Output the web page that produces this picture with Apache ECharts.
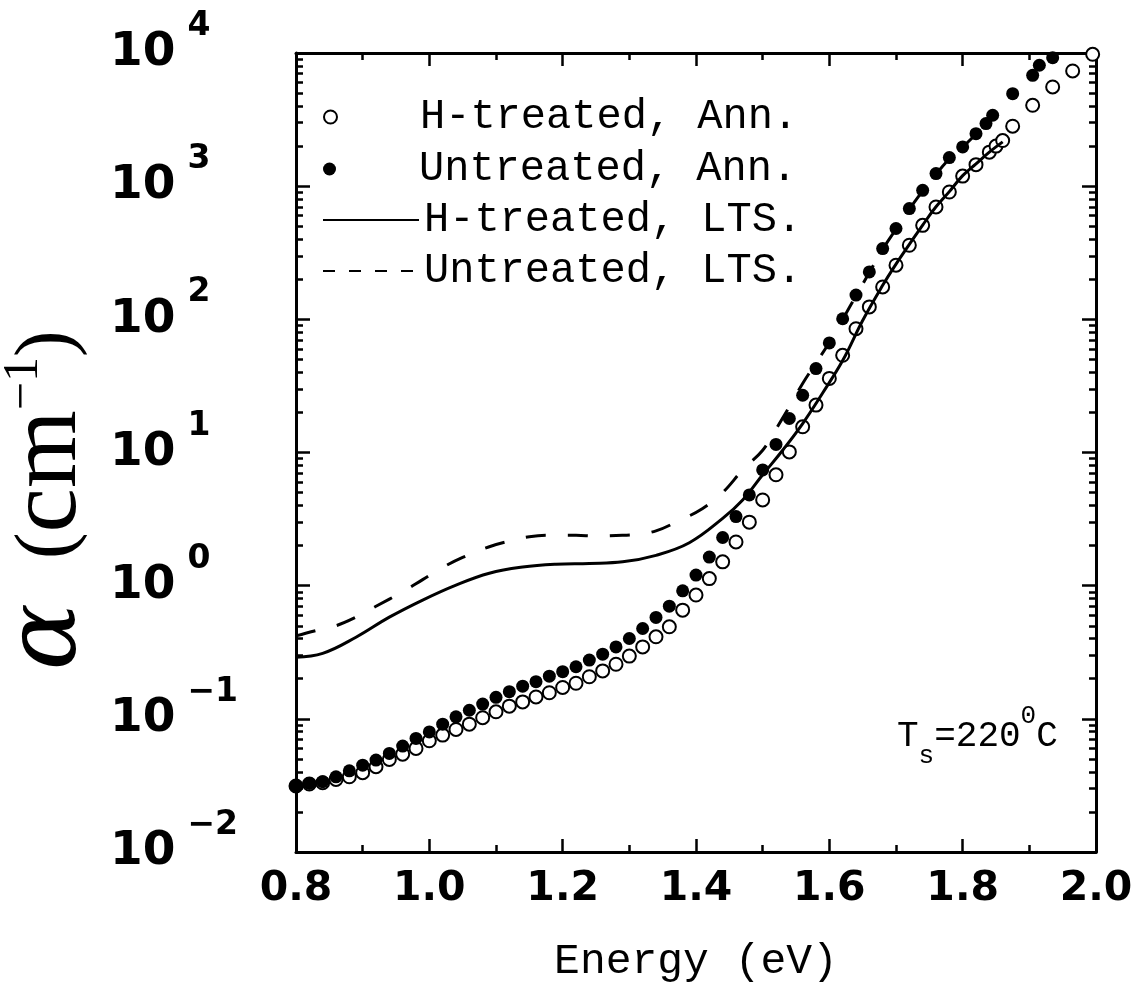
<!DOCTYPE html>
<html>
<head>
<meta charset="utf-8">
<script src="https://cdn.jsdelivr.net/npm/echarts@6/dist/echarts.min.js"></script>
<style>
  html, body { margin: 0; padding: 0; background: #fff; }
  #chart { width: 1141px; height: 1006px; }
</style>
</head>
<body>
<div id="chart"></div>
<script>
// Photon energies (eV) and absorption coefficients (cm^-1)

// H-treated sample, annealed state (open circles)
const hAnnEnergy = [
  0.80, 0.82, 0.84, 0.86, 0.88, 0.90, 0.92, 0.94, 0.96, 0.98,
  1.00, 1.02, 1.04, 1.06, 1.08, 1.10, 1.12, 1.14, 1.16, 1.18,
  1.20, 1.22, 1.24, 1.26, 1.28, 1.30, 1.32, 1.34, 1.36, 1.38,
  1.40, 1.42, 1.44, 1.46, 1.48, 1.50, 1.52, 1.54, 1.56, 1.58,
  1.60, 1.62, 1.64, 1.66, 1.68, 1.70, 1.72, 1.74, 1.76, 1.78,
  1.80, 1.82, 1.84, 1.85, 1.86, 1.875, 1.905, 1.935, 1.965, 1.995
];
const hAnnAlpha = [
  0.0313, 0.0324, 0.0331, 0.0351, 0.0367, 0.0394, 0.0437, 0.0496, 0.0543, 0.060,
  0.0684, 0.0755, 0.0832, 0.0912, 0.102, 0.113, 0.1245, 0.134, 0.146, 0.157,
  0.172, 0.185, 0.207, 0.229, 0.257, 0.296, 0.347, 0.413, 0.491, 0.655,
  0.85, 1.13, 1.51, 2.13, 3.0, 4.4, 6.8, 10.1, 15.6, 22.7,
  36, 53.7, 85, 124, 175, 255, 360, 508, 698, 904,
  1190, 1450, 1800, 2000, 2200, 2820, 4050, 5560, 7330, 9780
];

// Untreated sample, annealed state (filled circles)
const uAnnEnergy = [
  0.80, 0.82, 0.84, 0.86, 0.88, 0.90, 0.92, 0.94, 0.96, 0.98,
  1.00, 1.02, 1.04, 1.06, 1.08, 1.10, 1.12, 1.14, 1.16, 1.18,
  1.20, 1.22, 1.24, 1.26, 1.28, 1.30, 1.32, 1.34, 1.36, 1.38,
  1.40, 1.42, 1.44, 1.46, 1.48, 1.50, 1.52, 1.54, 1.56, 1.58,
  1.60, 1.62, 1.64, 1.66, 1.68, 1.70, 1.72, 1.74, 1.76, 1.78,
  1.80, 1.82, 1.835, 1.845, 1.875, 1.905, 1.915, 1.935
];
const uAnnAlpha = [
  0.0313, 0.0327, 0.0337, 0.0367, 0.0407, 0.0449, 0.049, 0.055, 0.0624, 0.0713,
  0.0798, 0.0912, 0.1035, 0.116, 0.129, 0.145, 0.160, 0.176, 0.190, 0.209,
  0.226, 0.246, 0.276, 0.306, 0.347, 0.401, 0.477, 0.577, 0.701, 0.914,
  1.2, 1.64, 2.3, 3.3, 4.8, 7.4, 11.5, 18, 26.9, 42.7,
  66.5, 101, 152, 227, 340, 481, 679, 931, 1244, 1640,
  1970, 2480, 2950, 3410, 4950, 6800, 8090, 9230
];

// H-treated sample, light-soaked state (solid curve)
const hLtsEnergy = [
  0.80, 0.84, 0.89, 0.94, 0.99, 1.04, 1.09, 1.14, 1.19, 1.24,
  1.29, 1.34, 1.39, 1.44, 1.47, 1.50, 1.53, 1.56, 1.59, 1.62,
  1.65, 1.68, 1.70, 1.72, 1.74, 1.76, 1.78, 1.80, 1.82, 1.84, 1.86
];
const hLtsAlpha = [
  0.29, 0.31, 0.41, 0.58, 0.78, 1.01, 1.24, 1.38, 1.45, 1.47,
  1.51, 1.69, 2.1, 3.2, 4.4, 6.8, 10.4, 16.5, 28, 49,
  98, 180, 260, 365, 510, 700, 910, 1200, 1470, 1800, 2150
];

// Untreated sample, light-soaked state (dashed curve)
const uLtsEnergy = [
  0.80, 0.83, 0.86, 0.89, 0.92, 0.96, 0.99, 1.02, 1.05, 1.09,
  1.12, 1.15, 1.18, 1.22, 1.25, 1.28, 1.31, 1.34, 1.37, 1.41,
  1.44, 1.47, 1.50, 1.52, 1.54, 1.56, 1.58, 1.60, 1.62, 1.64,
  1.66, 1.68, 1.70, 1.72, 1.74, 1.76, 1.78, 1.80, 1.82, 1.84, 1.85
];
const uLtsAlpha = [
  0.42, 0.46, 0.50, 0.58, 0.70, 0.90, 1.11, 1.37, 1.63, 1.96,
  2.16, 2.33, 2.39, 2.39, 2.36, 2.38, 2.42, 2.58, 3.0, 3.8,
  5.0, 7.4, 10.4, 15.0, 22, 33, 47, 67, 100, 150,
  225, 335, 475, 670, 920, 1230, 1600, 1960, 2450, 2950, 3400
];

// Axis ranges and tick positions
const energyRange = [0.8, 2.0];
const energyStep = 0.2;
const alphaRange = [0.01, 10000];
const alphaMinorTicks = [];
for (let d = -2; d < 4; d++) {
  for (let m = 2; m <= 9; m++) alphaMinorTicks.push(m * Math.pow(10, d));
}

const legendNames = ['H-treated, Ann.', 'Untreated, Ann.', 'H-treated, LTS.', 'Untreated, LTS.'];
const annotation = ['T', 's', '=220', '0', 'C'];

const pairs = (xs, ys) => xs.map((x, i) => [x, ys[i]]);

const INK = '#000';
const monoFont = 'Liberation Mono';
const labelFont = 'DejaVu Sans';

const axisLine = { show: true, onZero: false, lineStyle: { color: INK, width: 3 } };

function decadeLabel(v) {
  const e = Math.round(Math.log10(v));
  const s = e < 0 ? '\u2212' + (-e) : String(e);
  return '{b|10}{s|' + s + '}';
}

const decadeRich = {
  b: { fontFamily: labelFont, fontWeight: 'bold', fontSize: 47, lineHeight: 86, color: INK },
  s: { fontFamily: labelFont, fontWeight: 'bold', fontSize: 33, lineHeight: 33, verticalAlign: 'top', padding: [0, 0, 0, 12], color: INK }
};

function legendBlock(name, top, opts) {
  return Object.assign({
    data: [name],
    top: top,
    orient: 'vertical',
    selectedMode: false,
    itemGap: 0,
    padding: 0,
    textStyle: { fontFamily: monoFont, fontSize: 42, lineHeight: 42, color: INK }
  }, opts);
}

const chart = echarts.init(document.getElementById('chart'), null, { renderer: 'canvas' });

chart.setOption({
  animation: false,
  backgroundColor: '#fff',
  grid: { left: 296, right: 45, top: 53, bottom: 154, outerBoundsMode: 'none', containLabel: false },
  xAxis: [
    {
      type: 'value', position: 'bottom',
      min: energyRange[0], max: energyRange[1], interval: energyStep,
      axisLine: axisLine,
      axisTick: { inside: true, length: 13, lineStyle: { color: INK, width: 2.5 } },
      minorTick: { show: true, splitNumber: 2, length: 7, lineStyle: { color: INK, width: 2.5 } },
      splitLine: { show: false },
      axisLabel: {
        formatter: v => v.toFixed(1), margin: 17,
        fontFamily: labelFont, fontWeight: 'bold', fontSize: 41, color: INK
      },
      name: 'Energy (eV)', nameLocation: 'middle', nameGap: 88,
      nameTextStyle: { fontFamily: monoFont, fontSize: 43, color: INK }
    },
    {
      type: 'value', position: 'top',
      min: energyRange[0], max: energyRange[1], interval: energyStep,
      axisLine: axisLine,
      axisTick: { inside: true, length: 13, lineStyle: { color: INK, width: 2.5 } },
      minorTick: { show: true, splitNumber: 2, length: 7, lineStyle: { color: INK, width: 2.5 } },
      splitLine: { show: false },
      axisLabel: { show: false }
    }
  ],
  yAxis: [
    {
      type: 'log', logBase: 10, position: 'left',
      min: alphaRange[0], max: alphaRange[1],
      axisLine: axisLine,
      axisTick: { inside: true, length: 14, lineStyle: { color: INK, width: 2.5 } },
      splitLine: { show: false },
      axisLabel: { formatter: decadeLabel, align: 'left', margin: 186, rich: decadeRich },
      name: '{a|\u03b1}{g| }{p|(}{c|cm}{e|\u22121}{p|)}{z|}',
      nameLocation: 'middle', nameRotate: 90, nameGap: 168,
      nameTextStyle: {
        fontFamily: 'Liberation Serif', fontSize: 48, color: INK,
        rich: {
          a: { fontFamily: 'DejaVu Serif', fontStyle: 'italic', fontSize: 100, color: INK },
          g: { fontFamily: 'Liberation Serif', fontSize: 48, width: 44 },
          p: { fontFamily: 'Liberation Serif', fontSize: 80, color: INK },
          c: { fontFamily: 'Liberation Serif', fontSize: 100, color: INK },
          e: { fontFamily: 'Liberation Serif', fontSize: 50, lineHeight: 50, verticalAlign: 'top', color: INK },
          z: { width: 96 }
        }
      }
    },
    {
      type: 'log', logBase: 10, position: 'right',
      min: alphaRange[0], max: alphaRange[1],
      axisLine: axisLine,
      axisTick: { inside: true, length: 14, lineStyle: { color: INK, width: 2.5 } },
      splitLine: { show: false },
      axisLabel: { show: false }
    },
    {
      type: 'log', logBase: 10, position: 'left',
      min: alphaRange[0], max: alphaRange[1],
      axisLine: { show: false },
      axisTick: { inside: true, length: 7, customValues: alphaMinorTicks, lineStyle: { color: INK, width: 2.5 } },
      splitLine: { show: false },
      axisLabel: { show: false }
    },
    {
      type: 'log', logBase: 10, position: 'right',
      min: alphaRange[0], max: alphaRange[1],
      axisLine: { show: false },
      axisTick: { inside: true, length: 7, customValues: alphaMinorTicks, lineStyle: { color: INK, width: 2.5 } },
      splitLine: { show: false },
      axisLabel: { show: false }
    }
  ],
  legend: [
    legendBlock(legendNames[0], 96, {
      left: 323, itemWidth: 13, itemHeight: 13,
      formatter: n => '{g|}' + n,
      textStyle: { fontFamily: monoFont, fontSize: 42, lineHeight: 42, color: INK, rich: { g: { width: 78 } } }
    }),
    legendBlock(legendNames[1], 148, {
      left: 323, itemWidth: 13, itemHeight: 13,
      formatter: n => '{g|}' + n,
      textStyle: { fontFamily: monoFont, fontSize: 42, lineHeight: 42, color: INK, rich: { g: { width: 78 } } }
    }),
    legendBlock(legendNames[2], 199, {
      left: 322, itemWidth: 96, itemHeight: 14,
      data: [{ name: legendNames[2], itemStyle: { opacity: 0 } }]
    }),
    legendBlock(legendNames[3], 250, {
      left: 322, itemWidth: 96, itemHeight: 14,
      data: [{ name: legendNames[3], itemStyle: { opacity: 0 }, lineStyle: { type: [12, 14] } }]
    })
  ],
  graphic: [
    {
      type: 'text', left: 897, top: 703,
      style: {
        text: '{m|' + annotation[0] + '}{sub|' + annotation[1] + '}{m|' + annotation[2] +
              '}{sup|' + annotation[3] + '}{m|' + annotation[4] + '}',
        rich: {
          m: { fontFamily: monoFont, fontSize: 36, lineHeight: 66, color: INK },
          sub: { fontFamily: monoFont, fontSize: 26, lineHeight: 26, verticalAlign: 'bottom', color: INK },
          sup: { fontFamily: monoFont, fontSize: 26, lineHeight: 26, verticalAlign: 'top', color: INK }
        }
      }
    }
  ],
  series: [
    {
      name: legendNames[0], type: 'scatter', xAxisIndex: 0, yAxisIndex: 0,
      data: pairs(hAnnEnergy, hAnnAlpha),
      symbol: 'emptyCircle', symbolSize: 13,
      itemStyle: { color: INK, borderColor: INK, borderWidth: 2.8, opacity: 1 },
      z: 3
    },
    {
      name: legendNames[1], type: 'scatter', xAxisIndex: 0, yAxisIndex: 0,
      data: pairs(uAnnEnergy, uAnnAlpha),
      symbol: 'circle', symbolSize: 13,
      itemStyle: { color: INK, opacity: 1 },
      z: 4
    },
    {
      name: legendNames[2], type: 'line', xAxisIndex: 0, yAxisIndex: 0,
      data: pairs(hLtsEnergy, hLtsAlpha),
      symbol: 'none', showSymbol: false, smooth: 0.4,
      lineStyle: { color: INK, width: 3 },
      itemStyle: { color: INK },
      z: 5
    },
    {
      name: legendNames[3], type: 'line', xAxisIndex: 0, yAxisIndex: 0,
      data: pairs(uLtsEnergy, uLtsAlpha),
      symbol: 'none', showSymbol: false, smooth: 0.4,
      lineStyle: { color: INK, width: 3, type: [20, 22] },
      itemStyle: { color: INK },
      z: 5
    }
  ]
});
</script>
</body>
</html>
